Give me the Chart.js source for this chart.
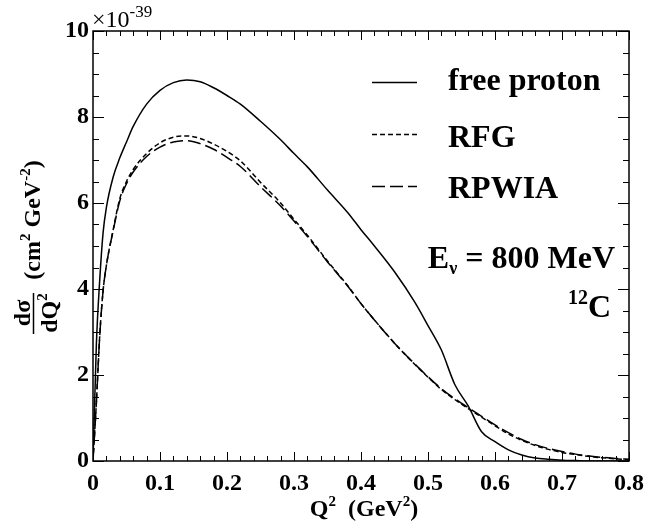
<!DOCTYPE html>
<html>
<head>
<meta charset="utf-8">
<script src="https://cdn.jsdelivr.net/npm/chart.js@4/dist/chart.umd.min.js"></script>
<style>
html,body{margin:0;padding:0;background:#fff;}
#wrap{width:652px;height:525px;}
</style>
</head>
<body>
<div id="wrap"><canvas id="c" width="652" height="525"></canvas></div>
<script>
// Q^2 grid (GeV^2)
const q = [0, 0.005, 0.01, 0.015, 0.02, 0.03, 0.04, 0.05, 0.06, 0.08, 0.10, 0.12, 0.14, 0.16, 0.18, 0.20, 0.22, 0.25, 0.28, 0.30, 0.32, 0.35, 0.38, 0.40, 0.42, 0.45, 0.48, 0.50, 0.52, 0.54, 0.56, 0.58, 0.60, 0.62, 0.64, 0.66, 0.68, 0.70, 0.72, 0.75, 0.78, 0.80];
// dσ/dQ^2 in units of 1e-39 cm^2 GeV^-2
const freeProton = [0, 2.7, 4.2, 5.3, 5.9, 6.6, 7.05, 7.42, 7.78, 8.3, 8.62, 8.8, 8.86, 8.82, 8.68, 8.5, 8.3, 7.9, 7.47, 7.15, 6.84, 6.3, 5.78, 5.38, 5.0, 4.4, 3.7, 3.15, 2.58, 1.78, 1.28, 0.68, 0.45, 0.26, 0.14, 0.07, 0.04, 0.02, 0.01, 0, 0, 0];
const rfg = [0, 1.35, 2.9, 3.95, 4.55, 5.37, 6.1, 6.5, 6.78, 7.15, 7.4, 7.53, 7.56, 7.5, 7.37, 7.2, 6.98, 6.48, 6.0, 5.62, 5.25, 4.65, 4.08, 3.66, 3.28, 2.74, 2.25, 1.95, 1.66, 1.43, 1.22, 1.02, 0.82, 0.63, 0.48, 0.36, 0.27, 0.2, 0.15, 0.09, 0.05, 0.03];
const rpwia = [0, 1.35, 2.9, 3.95, 4.55, 5.35, 6.05, 6.45, 6.72, 7.08, 7.3, 7.42, 7.45, 7.38, 7.25, 7.06, 6.85, 6.38, 5.93, 5.58, 5.22, 4.63, 4.07, 3.66, 3.28, 2.74, 2.26, 1.96, 1.68, 1.45, 1.24, 1.04, 0.84, 0.66, 0.5, 0.38, 0.29, 0.22, 0.16, 0.1, 0.06, 0.04];
const seriesLabels = ["free proton", "RFG", "RPWIA"];
const xTickLabels = ["0", "0.1", "0.2", "0.3", "0.4", "0.5", "0.6", "0.7", "0.8"];
const yTickLabels = ["0", "2", "4", "6", "8", "10"];

const SERIF = '"Liberation Serif", "Times New Roman", serif';
const toPts = arr => arr.map((v, i) => ({x: q[i], y: v}));

function drawParts(ctx, parts, x, y, align) {
  let total = 0;
  const ws = parts.map(p => { ctx.font = p.font; const w = ctx.measureText(p.t).width; total += w; return w; });
  let cur = align === 'right' ? x - total : align === 'center' ? x - total / 2 : x;
  parts.forEach((p, i) => { ctx.font = p.font; ctx.fillText(p.t, cur, y + (p.dy || 0)); cur += ws[i]; });
}

const B24 = 'bold 24px ' + SERIF, B15 = 'bold 15px ' + SERIF, B32 = 'bold 32px ' + SERIF, B20 = 'bold 20px ' + SERIF, B18 = 'bold 18px ' + SERIF;

const decor = {
  id: 'decor',
  afterDraw(chart) {
    const ctx = chart.ctx, a = chart.chartArea, xs = chart.scales.x, ys = chart.scales.y;
    ctx.save();
    ctx.strokeStyle = '#000'; ctx.fillStyle = '#000'; ctx.lineWidth = 1.5;
    // frame
    ctx.strokeRect(a.left, a.top, a.right - a.left, a.bottom - a.top);
    ctx.lineWidth = 1;
    // y ticks (both sides, inward)
    for (let k = 0; k <= 20; k++) {
      const v = k * 0.5, py = Math.round(ys.getPixelForValue(v)) + 0.5;
      const len = (k % 4 === 0) ? 11 : 6;
      ctx.beginPath();
      ctx.moveTo(a.left, py); ctx.lineTo(a.left + len, py);
      ctx.moveTo(a.right, py); ctx.lineTo(a.right - len, py);
      ctx.stroke();
    }
    // x ticks (bottom and top, inward)
    for (let k = 0; k <= 40; k++) {
      const v = k * 0.02, px = Math.round(xs.getPixelForValue(v)) + 0.5;
      const len = (k % 5 === 0) ? 9 : 5;
      ctx.beginPath();
      ctx.moveTo(px, a.bottom); ctx.lineTo(px, a.bottom - len);
      ctx.moveTo(px, a.top); ctx.lineTo(px, a.top + len);
      ctx.stroke();
    }
    // exponent
    ctx.textBaseline = 'alphabetic'; ctx.textAlign = 'left';
    drawParts(ctx, [{t: '\u00d710', font: '24px ' + SERIF}, {t: '-39', font: '17px ' + SERIF, dy: -10}], a.left - 1, 27, 'left');
    // legend from datasets
    const ly = [82, 134, 186], lb = [90, 147, 198];
    chart.data.datasets.forEach((ds, i) => {
      ctx.save();
      ctx.lineWidth = 1.5; ctx.setLineDash(ds.borderDash || []);
      ctx.beginPath(); ctx.moveTo(372, ly[i] + 0.5); ctx.lineTo(417, ly[i] + 0.5); ctx.stroke();
      ctx.restore();
      ctx.font = B32; ctx.fillText(ds.label, 448, lb[i]);
    });
    // energy and nucleus
    drawParts(ctx, [{t: 'E', font: B32}, {t: '\u03bd', font: B18, dy: 6}, {t: ' = 800 MeV', font: B32}], 615, 268, 'right');
    drawParts(ctx, [{t: '12', font: B20, dy: -13}, {t: 'C', font: B32}], 611, 317, 'right');
    // x title
    drawParts(ctx, [{t: 'Q', font: B24}, {t: '2', font: B15, dy: -10}, {t: '  (GeV', font: B24}, {t: '2', font: B15, dy: -10}, {t: ')', font: B24}], 364, 516, 'center');
    // y title (rotated)
    ctx.save();
    ctx.translate(30, 313); ctx.rotate(-Math.PI / 2);
    drawParts(ctx, [{t: 'd\u03c3', font: B24}], 0, 0, 'center');
    ctx.restore();
    ctx.beginPath(); ctx.lineWidth = 1.5; ctx.moveTo(33.5, 293); ctx.lineTo(33.5, 334); ctx.stroke();
    ctx.save();
    ctx.translate(57, 313); ctx.rotate(-Math.PI / 2);
    drawParts(ctx, [{t: 'dQ', font: B24}, {t: '2', font: B15, dy: -10}], 0, 0, 'center');
    ctx.restore();
    ctx.save();
    ctx.translate(40, 220); ctx.rotate(-Math.PI / 2);
    drawParts(ctx, [{t: '(cm', font: B24}, {t: '2', font: B15, dy: -10}, {t: ' GeV', font: B24}, {t: '-2', font: B15, dy: -10}, {t: ')', font: B24}], 0, 0, 'center');
    ctx.restore();
    ctx.restore();
  }
};

new Chart(document.getElementById('c'), {
  type: 'line',
  data: {
    datasets: [
      {label: seriesLabels[0], data: toPts(freeProton), borderColor: '#000', borderWidth: 1.5, pointRadius: 0, cubicInterpolationMode: 'monotone', fill: false},
      {label: seriesLabels[1], data: toPts(rfg), borderColor: '#000', borderWidth: 1.5, borderDash: [5, 3], pointRadius: 0, cubicInterpolationMode: 'monotone', fill: false},
      {label: seriesLabels[2], data: toPts(rpwia), borderColor: '#000', borderWidth: 1.5, borderDash: [13, 5], pointRadius: 0, cubicInterpolationMode: 'monotone', fill: false}
    ]
  },
  options: {
    responsive: false, animation: false, devicePixelRatio: 1,
    layout: {padding: {left: 0, top: 31, right: 16, bottom: 0}},
    plugins: {legend: {display: false}, tooltip: {enabled: false}},
    scales: {
      x: {
        type: 'linear', min: 0, max: 0.8,
        grid: {display: false, drawTicks: false},
        border: {display: false},
        ticks: {stepSize: 0.1, padding: 8, color: '#000', font: {family: SERIF, size: 24, weight: 'bold'}, maxRotation: 0,
          callback: (v) => { const i = Math.round(v * 10); return (Math.abs(v * 10 - i) < 1e-6) ? xTickLabels[i] : ''; }},
        afterFit: s => { s.height = 64; }
      },
      y: {
        min: 0, max: 10,
        grid: {display: false, drawTicks: false},
        border: {display: false},
        ticks: {stepSize: 2, padding: 4, color: '#000', font: {family: SERIF, size: 24, weight: 'bold'},
          callback: (v) => { const i = Math.round(v / 2); return (Math.abs(v / 2 - i) < 1e-6) ? yTickLabels[i] : ''; }},
        afterFit: s => { s.width = 93; }
      }
    }
  },
  plugins: [decor]
});
</script>
</body>
</html>
